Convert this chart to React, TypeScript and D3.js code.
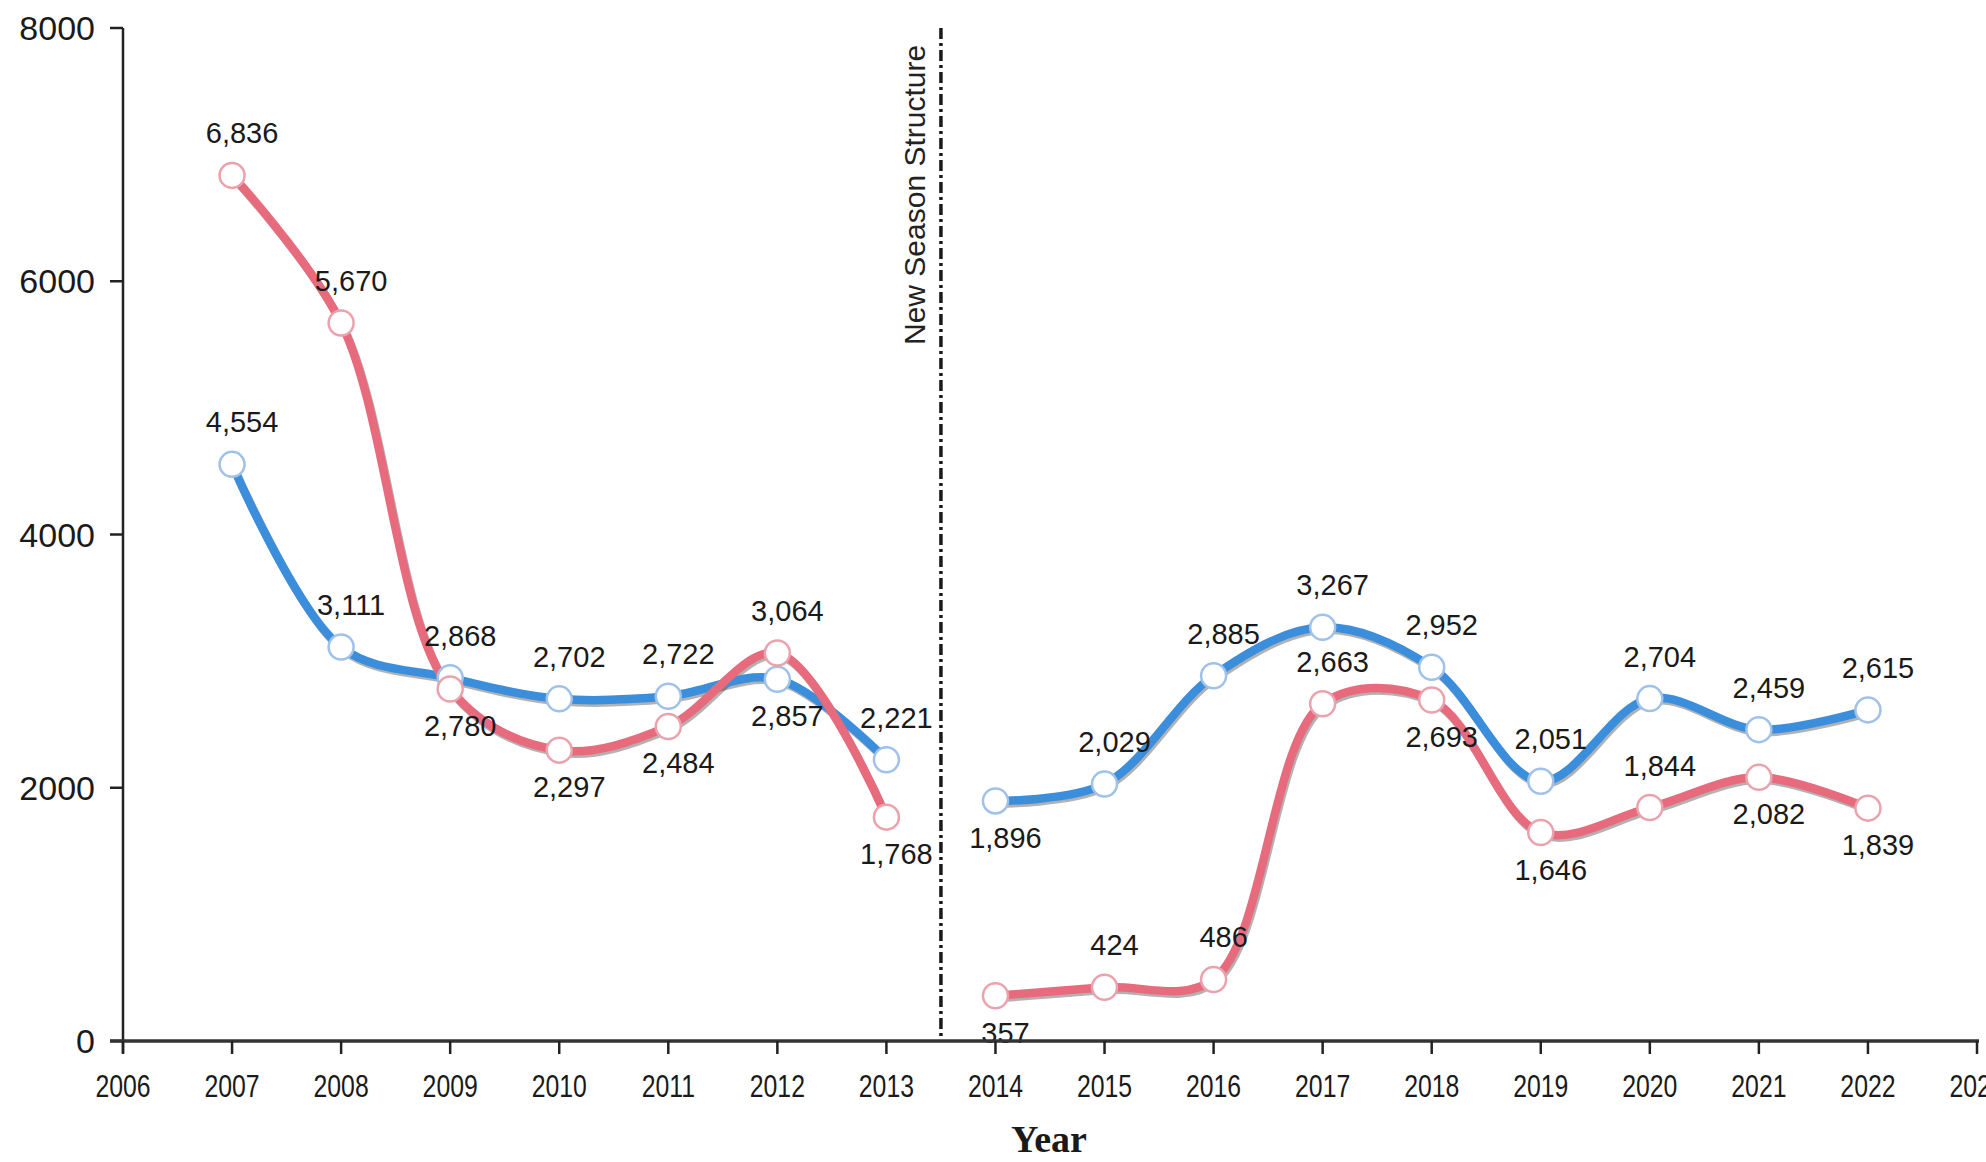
import React from "react";
import * as d3 from "d3";

const years = [2007, 2008, 2009, 2010, 2011, 2012, 2013, 2014, 2015, 2016, 2017, 2018, 2019, 2020, 2021, 2022];
const redValues = [6836, 5670, 2780, 2297, 2484, 3064, 1768, 357, 424, 486, 2663, 2693, 1646, 1844, 2082, 1839];
const blueValues = [4554, 3111, 2868, 2702, 2722, 2857, 2221, 1896, 2029, 2885, 3267, 2952, 2051, 2704, 2459, 2615];
const redLabelPos = ["a", "a", "b", "b", "b", "a", "b", "b", "a", "a", "a", "b", "b", "a", "b", "b"];
const blueLabelPos = ["a", "a", "a", "a", "a", "b", "a", "b", "a", "a", "a", "a", "a", "a", "a", "a"];
const segments = [[2007, 2013], [2014, 2022]];
const xTicks = d3.range(2006, 2024);
const yTicks = [0, 2000, 4000, 6000, 8000];
const breakYear = 2013.5;
const breakLabel = "New Season Structure";
const xTitle = "Year";

const W = 1986;
const H = 1162;
const RED = "#e86b7d";
const BLUE = "#3b8edb";

export default function App() {
  const x = d3.scaleLinear().domain([2006, 2023]).range([123, 1977]);
  const y = d3.scaleLinear().domain([0, 8000]).range([1041, 28]);
  const line = d3
    .line<[number, number]>()
    .x((d) => x(d[0]))
    .y((d) => y(d[1]))
    .curve(d3.curveCatmullRom.alpha(0.5));

  const fmt = d3.format(",");

  const series = [
    { values: blueValues, color: BLUE, ring: "#9fc1ea", pos: blueLabelPos },
    { values: redValues, color: RED, ring: "#eba2ad", pos: redLabelPos },
  ];

  const segData = (vals: number[]) =>
    segments.map(([a, b]) =>
      years
        .map((yr, i) => [yr, vals[i]] as [number, number])
        .filter((d) => d[0] >= a && d[0] <= b)
    );

  const labelFont = "'Liberation Sans', Arial, sans-serif";

  return (
    <svg
      width={W}
      height={H}
      style={{ position: "absolute", left: 0, top: 0, background: "#fff" }}
    >
      <rect x={0} y={0} width={W} height={H} fill="#fff" />
      {/* break line */}
      <line
        x1={x(breakYear)}
        x2={x(breakYear)}
        y1={y(8000)}
        y2={y(0)}
        stroke="#1a1a1a"
        strokeWidth={3.5}
        strokeDasharray="11,4,3,4"
      />
      <text
        transform={`translate(${x(breakYear) - 16},345) rotate(-90)`}
        fontFamily={labelFont}
        fontSize={30}
        fill="#222"
        textAnchor="start"
      >
        {breakLabel}
      </text>

      {/* shadows */}
      {series.map((s, si) =>
        segData(s.values).map((seg, k) => (
          <path
            key={`sh${si}-${k}`}
            d={line(seg) || ""}
            fill="none"
            stroke="#222"
            strokeOpacity={0.35}
            strokeWidth={8.5}
            transform="translate(1.5,2.5)"
          />
        ))
      )}
      {/* lines */}
      {series.map((s, si) =>
        segData(s.values).map((seg, k) => (
          <path
            key={`ln${si}-${k}`}
            d={line(seg) || ""}
            fill="none"
            stroke={s.color}
            strokeWidth={8.5}
            strokeLinecap="round"
          />
        ))
      )}
      {/* markers */}
      {series.map((s, si) =>
        years.map((yr, i) => (
          <circle
            key={`m${si}-${i}`}
            cx={x(yr)}
            cy={y(s.values[i])}
            r={12.5}
            fill="#fff"
            stroke={s.ring}
            strokeWidth={2.5}
          />
        ))
      )}
      {/* labels */}
      {series.map((s, si) =>
        years.map((yr, i) => (
          <text
            key={`l${si}-${i}`}
            x={x(yr) + 10}
            y={y(s.values[i]) + (s.pos[i] === "a" ? -32 : 47)}
            textAnchor="middle"
            fontFamily={labelFont}
            fontSize={29}
            fill="#1a1a1a"
          >
            {fmt(s.values[i])}
          </text>
        ))
      )}

      {/* y axis */}
      <line x1={x(2006)} x2={x(2006)} y1={y(8000)} y2={y(0) + 12} stroke="#222" strokeWidth={2.5} />
      {yTicks.map((t) => (
        <g key={`yt${t}`}>
          <line x1={x(2006) - 13} x2={x(2006)} y1={y(t)} y2={y(t)} stroke="#222" strokeWidth={2.5} />
          <text
            x={x(2006) - 28}
            y={y(t) + 12}
            textAnchor="end"
            fontFamily={labelFont}
            fontSize={34}
            fill="#1a1a1a"
          >
            {t}
          </text>
        </g>
      ))}
      {/* x axis */}
      <line x1={x(2006) - 13} x2={x(2023) + 2} y1={y(0)} y2={y(0)} stroke="#333" strokeWidth={3.5} />
      {xTicks.map((t) => (
        <g key={`xt${t}`}>
          <line x1={x(t)} x2={x(t)} y1={y(0)} y2={y(0) + 13} stroke="#222" strokeWidth={2.5} />
          <text
            transform={`translate(${x(t)},1097) scale(0.8,1)`}
            textAnchor="middle"
            fontFamily={labelFont}
            fontSize={31}
            fill="#1a1a1a"
          >
            {t}
          </text>
        </g>
      ))}
      <text
        x={1049}
        y={1152}
        textAnchor="middle"
        fontFamily="'Liberation Serif', 'Times New Roman', serif"
        fontWeight="bold"
        fontSize={38}
        fill="#1a1a1a"
      >
        {xTitle}
      </text>
    </svg>
  );
}
